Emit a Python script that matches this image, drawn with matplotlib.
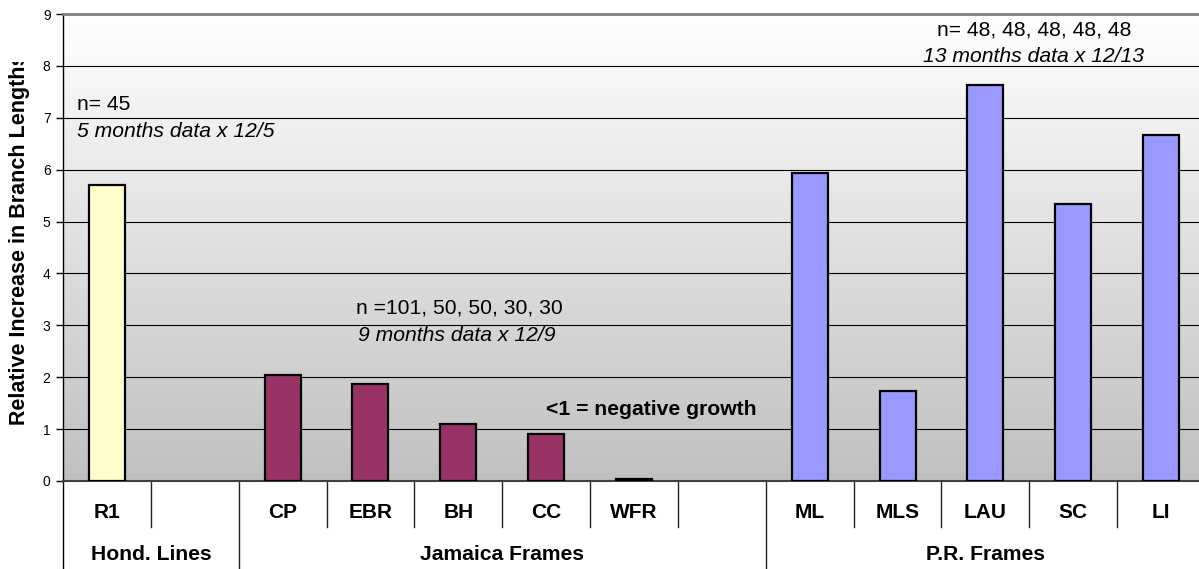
import numpy as np
import matplotlib
matplotlib.use("Agg")
import matplotlib.pyplot as plt
from matplotlib.colors import LinearSegmentedColormap
from matplotlib.transforms import blended_transform_factory, Bbox, TransformedBbox

plt.rcParams['font.family'] = ['Liberation Sans', 'DejaVu Sans']

# slots along x, the blank ones keep the three groups apart
sites  = ['R1', '', 'CP', 'EBR', 'BH', 'CC', 'WFR', '', 'ML', 'MLS', 'LAU', 'SC', 'LI']
growth = [5.70, np.nan, 2.05, 1.87, 1.10, 0.91, 0.04, np.nan, 5.93, 1.73, 7.63, 5.34, 6.67]

groups      = ['Hond. Lines', 'Jamaica Frames', 'P.R. Frames']
group_first = [0, 2, 8]
group_last  = [1, 7, 12]
group_color = ['#FFFFCC', '#993366', '#9999FF']

W, H = 1199, 569
fig = plt.figure(figsize=(W / 100, H / 100), dpi=100)
fig.patch.set_facecolor('white')

# plot area in pixels: x 63..1205, y 14..481 (from top)
ax = fig.add_axes([63 / W, (H - 481) / H, (1205 - 63) / W, (481 - 14) / H])

# grey-to-white background fill
bg = LinearSegmentedColormap.from_list('bg', ['#C0C0C0', '#FFFFFF'])
ax.imshow(np.linspace(0, 1, 256).reshape(-1, 1), cmap=bg, origin='lower',
          extent=[0, 1, 0, 1], transform=ax.transAxes, aspect='auto', zorder=0)

x = np.arange(len(sites))
colors = []
for i in x:
    for g in range(len(groups)):
        if group_first[g] <= i <= group_last[g]:
            colors.append(group_color[g])

vals = np.array(growth)
mask = ~np.isnan(vals)
ax.bar(x[mask], vals[mask], width=0.41, color=np.array(colors)[mask],
       edgecolor='black', linewidth=1.6, zorder=3)

ax.set_xlim(-0.5, len(sites) - 0.5)
ax.set_ylim(0, 9)
ax.set_yticks(range(10))
ax.set_xticks([])
ax.tick_params(axis='y', direction='out', length=5, width=1, labelsize=10, pad=4)
ax.set_axisbelow(True)
ax.yaxis.grid(True, color='black', linewidth=0.8)

ax.spines['right'].set_visible(False)
ax.spines['top'].set_color('#808080')
ax.spines['top'].set_linewidth(2)
ax.spines['bottom'].set_color('#404040')
ax.spines['bottom'].set_linewidth(1.5)
ax.spines['left'].set_linewidth(1)

# two-level category axis below the plot
tr = blended_transform_factory(ax.transData, ax.transAxes)
px = lambda py: (481 - py) / (481 - 14)   # figure pixel row -> axes fraction
ax.plot([-0.5, -0.5], [0, px(H)], color='black', lw=1, transform=tr, clip_on=False)
for b in np.arange(0.5, len(sites) - 0.5):
    long_line = any(np.isclose(b, f - 0.5) for f in group_first)
    y_end = px(H) if long_line else px(527)
    ax.plot([b, b], [0, y_end], color='#202020', lw=1, transform=tr, clip_on=False)

for i, s in enumerate(sites):
    if s:
        ax.text(i, px(512), s, transform=tr, ha='center', va='center',
                fontsize=15, fontweight='bold')
for g, name in enumerate(groups):
    mid = (group_first[g] + group_last[g]) / 2
    ax.text(mid, px(555), name, transform=tr, ha='center', va='center',
            fontsize=15.2, fontweight='bold')

# notes on sample sizes and scaling
ax.text(-0.34, 7.26, 'n= 45', fontsize=15.2, va='center', ha='left')
ax.text(-0.34, 6.74, '5 months data x 12/5', fontsize=15.2, style='italic', va='center', ha='left')
ax.text(2.84, 3.33, 'n =101, 50, 50, 30, 30', fontsize=15.2, va='center', ha='left')
ax.text(2.86, 2.81, '9 months data x 12/9', fontsize=15.2, style='italic', va='center', ha='left')
ax.text(5.0, 1.37, '<1 = negative growth', fontsize=15.2, fontweight='bold', va='center', ha='left')
ax.text(10.55, 8.69, 'n= 48, 48, 48, 48, 48', fontsize=15.2, va='center', ha='center')
ax.text(10.55, 8.19, '13 months data x 12/13', fontsize=15.2, style='italic', va='center', ha='center')

ylab = fig.text(20 / W, (H - 425) / H, 'Relative Increase in Branch Lengths',
                rotation=90, ha='center', va='bottom', fontsize=15.5, fontweight='bold')
ylab.set_clip_box(TransformedBbox(Bbox([[0, 0], [1, (H - 62) / H]]), fig.transFigure))
ylab.set_clip_on(True)

fig.savefig('out.png', dpi=100)
